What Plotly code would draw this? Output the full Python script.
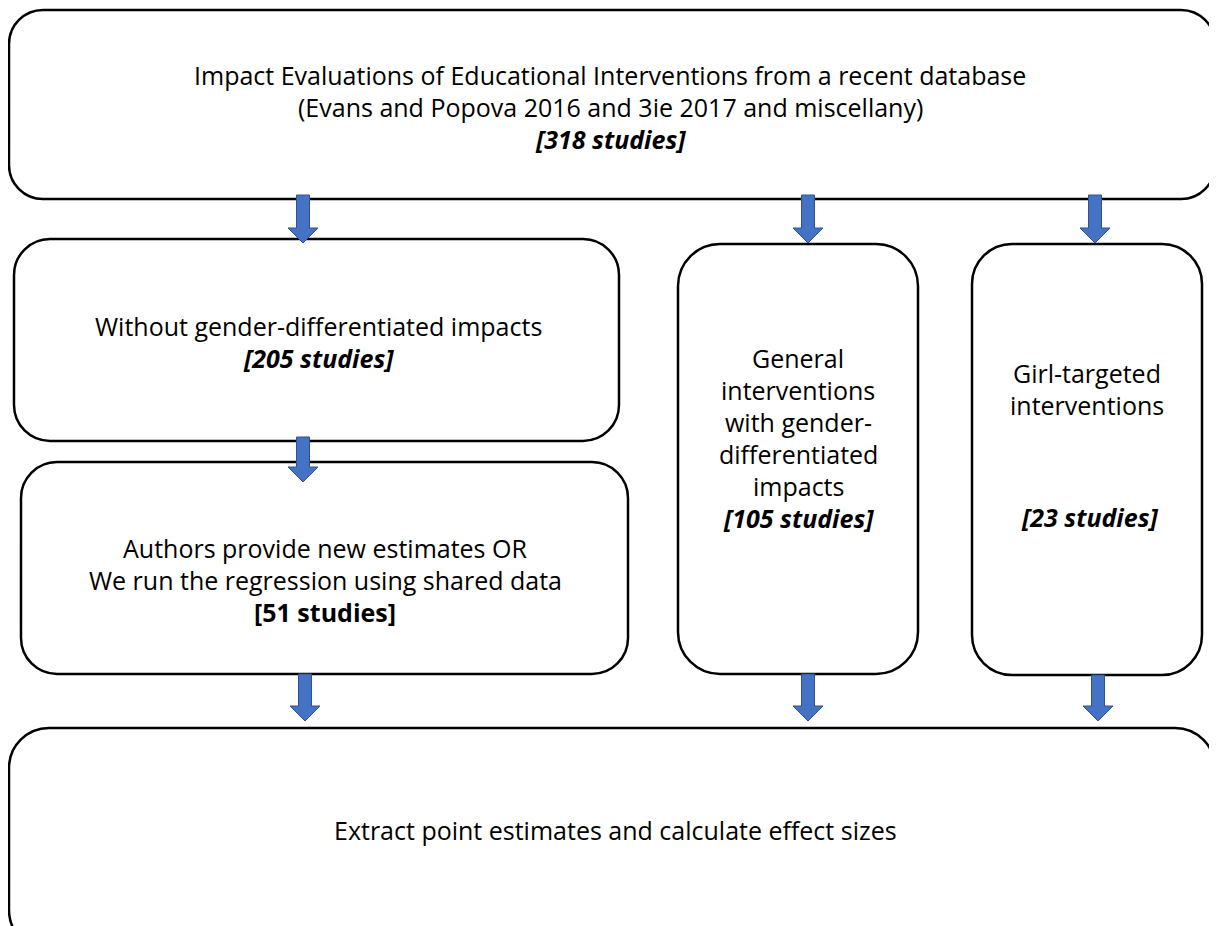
import plotly.graph_objects as go

# ---- content ----
top_lines = ["Impact Evaluations of Educational Interventions from a recent database",
             "(Evans and Popova 2016 and 3ie 2017 and miscellany)"]
top_count = 318
without_lines = ["Without gender-differentiated impacts"]
without_count = 205
authors_lines = ["Authors provide new estimates OR", "We run the regression using shared data"]
authors_count = 51
general_lines = ["General", "interventions", "with gender-", "differentiated", "impacts"]
general_count = 105
girl_lines = ["Girl-targeted", "interventions"]
girl_count = 23
bottom_lines = ["Extract point estimates and calculate effect sizes"]

W, H = 1217, 926
OFF = 8  # page body margin
FONT = "Open Sans"
FS = 25
LINE = 32

fig = go.Figure()

def rrect(x0, y0, x1, y1, r):
    k = 0.5523 * r
    return (f"M {x0+r},{y0} L {x1-r},{y0} C {x1-r+k},{y0} {x1},{y0+r-k} {x1},{y0+r} "
            f"L {x1},{y1-r} C {x1},{y1-r+k} {x1-r+k},{y1} {x1-r},{y1} "
            f"L {x0+r},{y1} C {x0+r-k},{y1} {x0},{y1-r+k} {x0},{y1-r} "
            f"L {x0},{y0+r} C {x0},{y0+r-k} {x0+r-k},{y0} {x0+r},{y0} Z")

def arrow(xc, ytop, ytip, shaft=13, head=30, hl=15):
    s, h = shaft / 2, head / 2
    yh = ytip - hl
    return (f"M {xc-s},{ytop} L {xc+s},{ytop} L {xc+s},{yh} L {xc+h},{yh} "
            f"L {xc},{ytip} L {xc-h},{yh} L {xc-s},{yh} Z")

boxes = [
    (9, 10, 1215, 199, 34),
    (14, 239, 619, 441, 36),
    (21, 462, 628, 674, 36),
    (678, 244, 918, 674, 42),
    (972, 244, 1202, 675, 40),
    (9, 728, 1215, 950, 40),
]
for (x0, y0, x1, y1, r) in boxes:
    fig.add_shape(type="path", path=rrect(x0, y0, x1, y1, r), xref="x", yref="y",
                  line=dict(color="black", width=2.5), fillcolor="rgba(0,0,0,0)", layer="above")

arrows = [(303, 195, 243), (808, 195, 243), (1095, 195, 243),
          (303, 437, 482),
          (305, 674, 721), (808, 674, 721), (1098, 675, 721)]
for (xc, yt, yb) in arrows:
    fig.add_shape(type="path", path=arrow(xc, yt, yb), xref="x", yref="y",
                  line=dict(color="#2F528F", width=1), fillcolor="#4472C4", layer="above")

def text(x, y, s):
    fig.add_annotation(x=x, y=y, text=s, showarrow=False, xanchor="center", yanchor="middle",
                       xref="x", yref="y", font=dict(family=FONT, size=FS, color="black"))

def block(x, y0, lines):
    for i, s in enumerate(lines):
        text(x, y0 + i * LINE, s)

def count_label(n, italic=True):
    return f"<b><i>[{n} studies]</i></b>" if italic else f"<b>[{n} studies]</b>"

block(610, 75, top_lines + [count_label(top_count)])
block(318, 326, without_lines + [count_label(without_count)])
block(325, 548, authors_lines + [count_label(authors_count, italic=False)])
block(798, 358, general_lines + [count_label(general_count)])
block(1087, 373, girl_lines)
text(1090, 517, count_label(girl_count))
block(615, 830, bottom_lines)

fig.update_layout(width=W - OFF, height=H - OFF, margin=dict(l=0, r=0, t=0, b=0),
                  paper_bgcolor="white", plot_bgcolor="white", showlegend=False,
                  xaxis=dict(range=[OFF, W], visible=False, fixedrange=True),
                  yaxis=dict(range=[H, OFF], visible=False, fixedrange=True))
fig.write_html("out.html")
